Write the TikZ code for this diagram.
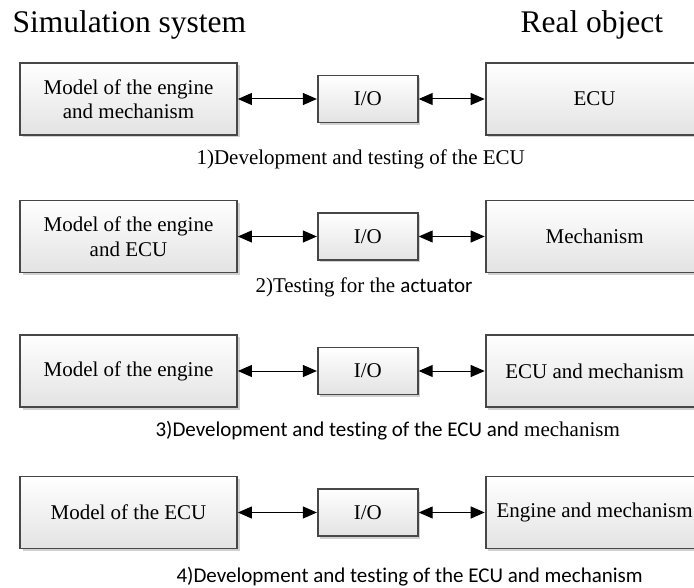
\documentclass[tikz,border=0pt]{standalone}
\usepackage{fontspec}
\setmainfont{Liberation Serif}
\newfontfamily\calfont[Ligatures=NoCommon]{Carlito}
\usetikzlibrary{positioning,arrows.meta,shadows}

\begin{document}
\begin{tikzpicture}[
    x=1pt, y=-1pt,
    node distance=79pt,
    block/.style={rectangle, draw=black!72, line width=1.8pt,
        top color=white, bottom color=black!11,
        drop shadow={shadow xshift=2.5pt, shadow yshift=-2.5pt, fill=black!18, opacity=1},
        minimum height=72pt, inner sep=2pt, align=center,
        font=\fontsize{21}{24.5}\selectfont},
    iobox/.style={block, minimum width=100pt, minimum height=47pt},
    title/.style={anchor=base west, font=\fontsize{31.5}{36}\selectfont},
    caption/.style={anchor=base west, font=\fontsize{21}{24}\selectfont},
    link/.style={{Triangle[length=14pt,width=12pt]}-{Triangle[length=14pt,width=12pt]}, line width=1pt}
]
    \useasboundingbox (0,0) rectangle (694,588);

    \node[title] (sim) at (9,33) {Simulation system};
    \node[title] (real) at (517,33) {Real object};

    % row 1
    \node[block, minimum width=217pt] (model1) at (128.5,99) {Model of the engine\\and mechanism};
    \node[iobox, right=of model1] (io1) {I/O};
    \node[block, minimum width=218pt, right=66pt of io1] (obj1) {ECU};
    \node[caption] (cap1) at (193,165) {1)Development and testing of the ECU};

    % row 2
    \node[block, minimum width=217pt] (model2) at (128.5,236.5) {Model of the engine\\and ECU};
    \node[iobox, right=of model2] (io2) {I/O};
    \node[block, minimum width=218pt, right=66pt of io2] (obj2) {Mechanism};
    \node[caption] (cap2) at (252,293) {2)Testing for the {\calfont actuator}};

    % row 3
    \node[block, minimum width=217pt] (model3) at (128.5,371) {Model of the engine};
    \node[iobox, right=of model3] (io3) {I/O};
    \node[block, minimum width=218pt, right=66pt of io3] (obj3) {ECU and mechanism};
    \node[caption] (cap3) at (152,436) {{\calfont 3)Development and testing of the ECU and} mechanism};

    % row 4
    \node[block, minimum width=217pt] (model4) at (128.5,512.5) {Model of the ECU};
    \node[iobox, right=of model4] (io4) {I/O};
    \node[block, minimum width=218pt, right=66pt of io4] (obj4) {Engine and mechanism};
    \node[caption] (cap4) at (173,582) {\calfont 4)Development and testing of the ECU and mechanism};

    \draw[link] (model1) -- (io1);
    \draw[link] (io1) -- (obj1);
    \draw[link] (model2) -- (io2);
    \draw[link] (io2) -- (obj2);
    \draw[link] (model3) -- (io3);
    \draw[link] (io3) -- (obj3);
    \draw[link] (model4) -- (io4);
    \draw[link] (io4) -- (obj4);
\end{tikzpicture}
\end{document}
